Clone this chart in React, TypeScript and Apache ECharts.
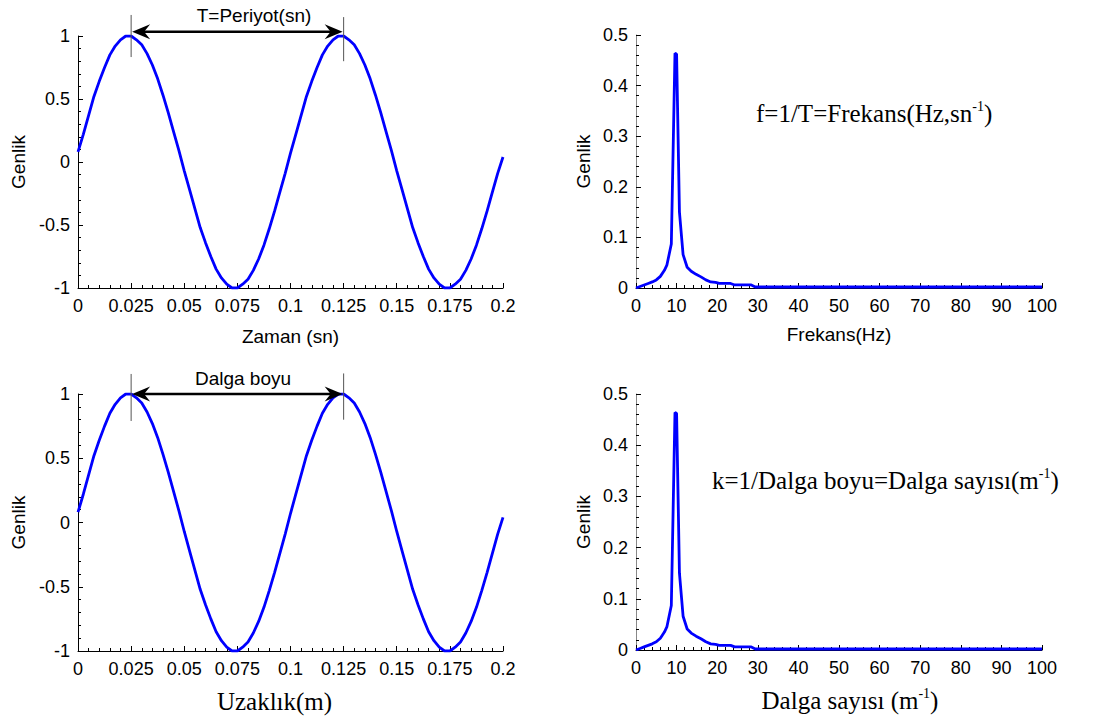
import React, { useEffect, useRef } from "react";
import * as echarts from "echarts";

// Sample positions (time in s / distance in m)
const sampleX = [
  0, 0.0025, 0.005, 0.0075, 0.01, 0.0125, 0.015, 0.0175, 0.02, 0.0225,
  0.025, 0.0275, 0.03, 0.0325, 0.035, 0.0375, 0.04, 0.0425, 0.045, 0.0475,
  0.05, 0.0525, 0.055, 0.0575, 0.06, 0.0625, 0.065, 0.0675, 0.07, 0.0725,
  0.075, 0.0775, 0.08, 0.0825, 0.085, 0.0875, 0.09, 0.0925, 0.095, 0.0975,
  0.1, 0.1025, 0.105, 0.1075, 0.11, 0.1125, 0.115, 0.1175, 0.12, 0.1225,
  0.125, 0.1275, 0.13, 0.1325, 0.135, 0.1375, 0.14, 0.1425, 0.145, 0.1475,
  0.15, 0.1525, 0.155, 0.1575, 0.16, 0.1625, 0.165, 0.1675, 0.17, 0.1725,
  0.175, 0.1775, 0.18, 0.1825, 0.185, 0.1875, 0.19, 0.1925, 0.195, 0.1975,
  0.2,
];

// Amplitude of the wave
const waveAmp = [
  0.08, 0.22, 0.37, 0.52, 0.64, 0.75, 0.85, 0.92, 0.97, 1.0,
  1.0, 0.97, 0.93, 0.86, 0.77, 0.66, 0.53, 0.39, 0.24, 0.09,
  -0.07, -0.22, -0.37, -0.52, -0.64, -0.75, -0.85, -0.92, -0.97, -1.0,
  -1.0, -0.97, -0.93, -0.86, -0.77, -0.66, -0.53, -0.39, -0.24, -0.09,
  0.07, 0.22, 0.37, 0.52, 0.64, 0.75, 0.85, 0.92, 0.97, 1.0,
  1.0, 0.97, 0.93, 0.86, 0.77, 0.66, 0.53, 0.39, 0.24, 0.09,
  -0.07, -0.22, -0.37, -0.52, -0.64, -0.75, -0.85, -0.92, -0.97, -1.0,
  -1.0, -0.97, -0.93, -0.86, -0.77, -0.66, -0.53, -0.39, -0.24, -0.09,
  0.04,
];

// Spectrum: frequency (Hz) / wavenumber (1/m) and amplitude
const specX = [
  0, 1, 2, 3, 4, 5, 6, 7, 7.6, 8.7, 9.6, 10.0, 10.7, 11.6, 12.6, 13.6,
  14.8, 16, 17.2, 18.4, 19.6, 20.5, 22, 23.3, 24.3, 26, 28.4, 29.4, 100,
];
const specAmp = [
  0, 0.003, 0.006, 0.009, 0.012, 0.016, 0.023, 0.035, 0.045, 0.087, 0.464,
  0.462, 0.15, 0.066, 0.041, 0.033, 0.027, 0.022, 0.016, 0.012, 0.011,
  0.009, 0.009, 0.009, 0.006, 0.006, 0.006, 0.002, 0.002,
];

const waveTicks = { min: 0, max: 0.2, interval: 0.025 };
const waveAmpTicks = { min: -1, max: 1, interval: 0.5 };
const specTicks = { min: 0, max: 100, interval: 10 };
const specAmpTicks = { min: 0, max: 0.5, interval: 0.1 };

const SANS = "'Liberation Sans', Arial, sans-serif";
const SERIF = "'Liberation Serif', 'Times New Roman', serif";

const zip = (xs: number[], ys: number[]) => xs.map((x, i) => [x, ys[i]]);

function axisBase(gridIndex: number, ticks: any, lineColor: string, extra: any) {
  return {
    type: "value",
    gridIndex,
    min: ticks.min,
    max: ticks.max,
    interval: ticks.interval,
    axisLine: { show: true, onZero: false, lineStyle: { color: lineColor, width: 1 } },
    axisTick: { show: true, inside: true, length: 5, lineStyle: { color: "#000", width: 1 } },
    minorTick: { show: true, splitNumber: 5, length: 3, lineStyle: { color: "#000", width: 1 } },
    splitLine: { show: false },
    minorSplitLine: { show: false },
    axisLabel: { color: "#000", fontFamily: SANS, fontSize: 18 },
    nameLocation: "middle",
    ...extra,
  };
}

export default function App() {
  const ref = useRef<HTMLDivElement>(null);

  useEffect(() => {
    document.body.style.margin = "0";
    const chart = echarts.init(ref.current!, null, { renderer: "svg" });
    const genlik = {
      name: "Genlik",
      nameTextStyle: { color: "#000", fontFamily: SANS, fontSize: 19 },
    };
    const option: any = {
      animation: false,
      backgroundColor: "#fff",
      grid: [
        { left: 78, top: 36, width: 425, height: 252 },
        { left: 636, top: 35, width: 406, height: 253 },
        { left: 78, top: 394, width: 425, height: 257 },
        { left: 636, top: 394, width: 406, height: 256 },
      ],
      xAxis: [
        axisBase(0, waveTicks, "#000", {
          name: "Zaman (sn)",
          nameGap: 39,
          nameTextStyle: { color: "#000", fontFamily: SANS, fontSize: 19 },
          axisLabel: { color: "#000", fontFamily: SANS, fontSize: 18, margin: 9 },
        }),
        axisBase(1, specTicks, "#000", {
          name: "Frekans(Hz)",
          nameGap: 37,
          nameTextStyle: { color: "#000", fontFamily: SANS, fontSize: 19 },
          axisLabel: { color: "#000", fontFamily: SANS, fontSize: 18, margin: 9 },
        }),
        axisBase(2, waveTicks, "#000", {
          name: "Uzaklık(m)",
          nameGap: 38,
          nameTextStyle: {
            color: "#000",
            fontFamily: SERIF,
            fontSize: 25,
            padding: [0, 32, 0, 0],
          },
          axisLabel: { color: "#000", fontFamily: SANS, fontSize: 18, margin: 9 },
        }),
        axisBase(3, specTicks, "#000", {
          name: "Dalga sayısı (m{sup|-1})",
          nameGap: 36,
          nameTextStyle: {
            color: "#000",
            fontFamily: SERIF,
            fontSize: 25,
            lineHeight: 28,
            padding: [0, 0, 0, 22],
            rich: {
              sup: { fontFamily: SERIF, fontSize: 14, verticalAlign: "top", lineHeight: 28, color: "#000" },
            },
          },
          axisLabel: { color: "#000", fontFamily: SANS, fontSize: 18, margin: 9 },
        }),
      ],
      yAxis: [
        axisBase(0, waveAmpTicks, "#000", { ...genlik, nameGap: 50, axisLabel: { color: "#000", fontFamily: SANS, fontSize: 18, margin: 8 } }),
        axisBase(1, specAmpTicks, "#888", { ...genlik, nameGap: 43, axisLabel: { color: "#000", fontFamily: SANS, fontSize: 18, margin: 8 } }),
        axisBase(2, waveAmpTicks, "#000", { ...genlik, nameGap: 50, axisLabel: { color: "#000", fontFamily: SANS, fontSize: 18, margin: 8 } }),
        axisBase(3, specAmpTicks, "#888", { ...genlik, nameGap: 43, axisLabel: { color: "#000", fontFamily: SANS, fontSize: 18, margin: 8 } }),
      ],
      series: [0, 1, 2, 3].map((i) => ({
        type: "line",
        xAxisIndex: i,
        yAxisIndex: i,
        showSymbol: false,
        symbol: "none",
        data: i % 2 === 0 ? zip(sampleX, waveAmp) : zip(specX, specAmp),
        lineStyle: { color: "#0000ff", width: 2.8 },
        z: 3,
      })),
    };
    chart.setOption(option);

    const px = (g: number, x: number, y: number) =>
      chart.convertToPixel({ gridIndex: g } as any, [x, y]) as number[];

    const graphics: any[] = [];
    const addArrow = (g: number, yArrow: number, marks: number[][]) => {
      const [xl, y] = px(g, 0.025, yArrow);
      const [xr] = px(g, 0.125, yArrow);
      graphics.push({
        type: "line",
        shape: { x1: xl + 12, y1: y, x2: xr - 12, y2: y },
        style: { stroke: "#000", lineWidth: 2.6 },
        z: 10,
      });
      graphics.push({
        type: "polygon",
        shape: { points: [[xl + 1, y], [xl + 19, y - 7.5], [xl + 13, y], [xl + 19, y + 7.5]] },
        style: { fill: "#000" },
        z: 10,
      });
      graphics.push({
        type: "polygon",
        shape: { points: [[xr - 1, y], [xr - 19, y - 7.5], [xr - 13, y], [xr - 19, y + 7.5]] },
        style: { fill: "#000" },
        z: 10,
      });
      marks.forEach(([mx, top, bot]) => {
        const a = px(g, mx, top);
        const b = px(g, mx, bot);
        graphics.push({
          type: "line",
          shape: { x1: a[0], y1: a[1], x2: b[0], y2: b[1] },
          style: { stroke: "#555", lineWidth: 1 },
          z: 11,
        });
      });
    };
    addArrow(0, 1.034, [
      [0.025, 1.167, 0.833],
      [0.125, 1.15, 0.8],
    ]);
    addArrow(2, 1.0, [
      [0.025, 1.156, 0.79],
      [0.125, 1.16, 0.8],
    ]);

    graphics.push({
      type: "text",
      x: 254,
      y: 15,
      style: { text: "T=Periyot(sn)", fontFamily: SANS, fontSize: 19, fill: "#000", align: "center", verticalAlign: "middle" },
      z: 12,
    });
    graphics.push({
      type: "text",
      x: 243,
      y: 378,
      style: { text: "Dalga boyu", fontFamily: SANS, fontSize: 19, fill: "#000", align: "center", verticalAlign: "middle" },
      z: 12,
    });
    const supRich = {
      sup: { fontFamily: SERIF, fontSize: 14, verticalAlign: "top", lineHeight: 28, fill: "#000" },
    };
    graphics.push({
      type: "text",
      x: 756,
      y: 113,
      style: {
        text: "f=1/T=Frekans(Hz,sn{sup|-1})",
        fontFamily: SERIF,
        fontSize: 25,
        lineHeight: 28,
        fill: "#000",
        align: "left",
        verticalAlign: "middle",
        rich: supRich,
      },
      z: 12,
    });
    graphics.push({
      type: "text",
      x: 712,
      y: 480,
      style: {
        text: "k=1/Dalga boyu=Dalga sayısı(m{sup|-1})",
        fontFamily: SERIF,
        fontSize: 25,
        lineHeight: 28,
        fill: "#000",
        align: "left",
        verticalAlign: "middle",
        rich: supRich,
      },
      z: 12,
    });
    chart.setOption({ graphic: graphics });

    return () => chart.dispose();
  }, []);

  return (
    <div
      ref={ref}
      style={{ position: "absolute", left: 0, top: 0, width: 1107, height: 725, background: "#fff" }}
    />
  );
}
